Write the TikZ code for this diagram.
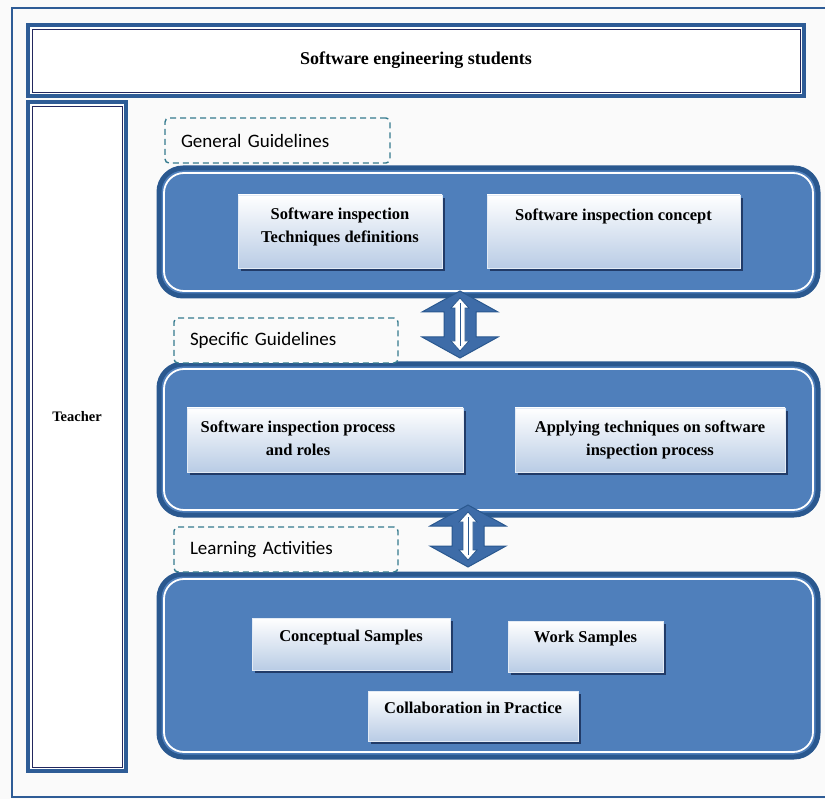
\documentclass[tikz,border=0pt]{standalone}
\usepackage{fontspec}
\setmainfont{Liberation Serif}
\newfontfamily\tagfont{Carlito}
\usepackage{tikz}
\usetikzlibrary{positioning,shadows,calc}
\definecolor{bgcol}{RGB}{250,250,250}
\definecolor{frameblue}{RGB}{46,92,150}
\definecolor{navyline}{RGB}{35,40,95}
\definecolor{panelfill}{RGB}{79,127,187}
\definecolor{paneldark}{RGB}{42,88,143}
\definecolor{arrowfill}{RGB}{62,108,168}
\definecolor{dashcol}{RGB}{52,122,142}
\definecolor{itembot}{RGB}{185,204,229}
\definecolor{itemshade}{RGB}{28,52,96}

\begin{document}
\begin{tikzpicture}[x=1pt,y=-1pt,
		outerbox/.style={draw=frameblue,line width=4pt,fill=white,inner sep=0pt,outer sep=0pt},
		panelbox/.style={draw=paneldark,line width=5pt,fill=panelfill,rounded corners=24pt,minimum width=659pt,inner sep=0pt,outer sep=0pt},
		tagbox/.style={draw=dashcol,dash pattern=on 6pt off 4pt,line width=1.4pt,fill=bgcol,rounded corners=4pt,minimum width=224pt,minimum height=45pt,text width=192pt,inner xsep=16pt,align=left,font=\tagfont\fontsize{19}{22}\selectfont},
		itembox/.style={draw=white!60!itembot,line width=0.8pt,top color=white,bottom color=itembot,drop shadow={shadow xshift=2.5pt,shadow yshift=-3pt,fill=itemshade,opacity=0.9},inner sep=0pt,outer sep=0pt},
		itemtext/.style={inner sep=0pt,align=center,font=\bfseries\fontsize{16.5}{23}\selectfont},
		blockarrow/.style={fill=arrowfill,draw=paneldark,line width=1pt,line join=miter}]
	\fill[bgcol] (0,0) rectangle (825,799);
	\useasboundingbox (0,0) rectangle (825,799);
	\draw[frameblue,line width=2.5pt] (830,8) -- (12,8) -- (12,797) -- (830,797);

	\node[outerbox,minimum width=776pt,minimum height=71pt,font=\bfseries\fontsize{18}{22}\selectfont] (stud) at (416,60.5) {Software engineering students};
	\node[outerbox,minimum width=98pt,minimum height=669pt] (teacher) at (77,436.5) {};
	\node[font=\bfseries\fontsize{14.5}{17}\selectfont,inner sep=0pt] (teachtext) at (77,417) {Teacher};
	\foreach \n in {stud,teacher}
		\draw[navyline,line width=0.9pt] ([shift={(4pt,-4pt)}]\n.north west) rectangle ([shift={(-4pt,4pt)}]\n.south east);

	\node[panelbox,minimum height=128pt] (p1) at (488.5,232) {};
	\node[panelbox,minimum height=151pt] (p2) at (488.5,439.5) {};
	\node[panelbox,minimum height=183pt] (p3) at (488.5,665.5) {};
	\foreach \p in {p1,p2,p3}
		\draw[white,line width=1.8pt,rounded corners=20pt] ([shift={(5pt,-5pt)}]\p.north west) rectangle ([shift={(-5pt,5pt)}]\p.south east);

	\foreach \u/\v/\dx/\du/\dv in {p1/p2/-28.5/5/6,p2/p3/-20.5/10/7} {
		\draw[blockarrow] let \p1=([shift={(\dx pt,\du pt)}]\u.south), \p2=([shift={(\dx pt,\dv pt)}]\v.north) in
			(\x1,\y1) -- (\x1+38pt,\y1-21pt) -- (\x1+16pt,\y1-21pt) -- (\x1+16pt,\y2+21pt) -- (\x1+38pt,\y2+21pt) -- (\x1,\y2)
			-- (\x1-38pt,\y2+21pt) -- (\x1-16pt,\y2+21pt) -- (\x1-16pt,\y1-21pt) -- (\x1-38pt,\y1-21pt) -- cycle;
		\draw[fill=white,draw=paneldark,line width=0.8pt] let \p1=([shift={(\dx pt,\du pt)}]\u.south), \p2=([shift={(\dx pt,\dv pt)}]\v.north) in
			(\x1,\y1-7pt) -- (\x1+9pt,\y1-17pt) -- (\x1+5pt,\y1-17pt) -- (\x1+5pt,\y2+17pt) -- (\x1+9pt,\y2+17pt) -- (\x1,\y2+7pt)
			-- (\x1-9pt,\y2+17pt) -- (\x1-5pt,\y2+17pt) -- (\x1-5pt,\y1-17pt) -- (\x1-9pt,\y1-17pt) -- cycle;
		\draw[paneldark,line width=0.8pt] let \p1=([shift={(\dx pt,\du pt)}]\u.south), \p2=([shift={(\dx pt,\dv pt)}]\v.north) in
			(\x1,\y1-12pt) -- (\x1,\y2+12pt);
	}

	\node[tagbox,minimum width=225pt,text width=193pt] (gen) at (277.5,140.5) {General Guidelines};
	\node[tagbox] (spec) at (286,340.5) {Specific Guidelines};
	\node[tagbox] (learn) at (286,549.5) {Learning Activities};

	\node[itembox,minimum width=204pt,minimum height=73pt] (i1) at (340,231.5) {};
	\node[itemtext,below=13pt of i1.north] (i1t) {Software inspection\\Techniques definitions};
	\node[itembox,minimum width=253pt,minimum height=73pt] (i2) at (613.5,231.5) {};
	\node[itemtext,below=14pt of i2.north] (i2t) {Software inspection concept};
	\node[itembox,minimum width=276pt,minimum height=64pt] (i3) at (325,440) {};
	\node[itemtext,below=13pt of i3.north,xshift=-27pt] (i3t) {Software inspection process\\and roles};
	\node[itembox,minimum width=270pt,minimum height=64pt] (i4) at (650,440) {};
	\node[itemtext,below=13pt of i4.north] (i4t) {Applying techniques on software\\inspection process};
	\node[itembox,minimum width=198pt,minimum height=52pt] (i5) at (351,644) {};
	\node[itemtext,below=12pt of i5.north] (i5t) {Conceptual Samples};
	\node[itembox,minimum width=155pt,minimum height=51pt] (i6) at (585.5,646.5) {};
	\node[itemtext,below=10pt of i6.north] (i6t) {Work Samples};
	\node[itembox,minimum width=210pt,minimum height=50pt] (i7) at (473,716) {};
	\node[itemtext,below=11pt of i7.north] (i7t) {Collaboration in Practice};
\end{tikzpicture}
\end{document}
